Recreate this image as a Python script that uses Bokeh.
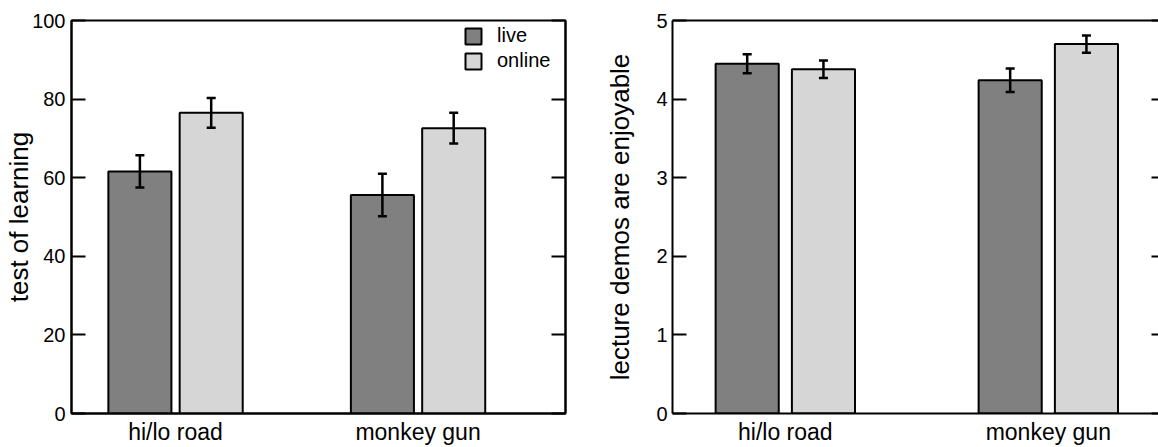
from bokeh.plotting import figure
from bokeh.models import (Range1d, FixedTicker, LinearAxis, Whisker, ColumnDataSource,
                          Legend, LegendItem, TeeHead)
from bokeh.layouts import row
from bokeh.embed import file_html
from bokeh.resources import INLINE

categories = ["hi/lo road", "monkey gun"]
series = ["live", "online"]

learning_live = [61.6, 55.6]
learning_live_err = [4.1, 5.4]
learning_online = [76.5, 72.6]
learning_online_err = [3.8, 3.9]
learning_ticks = [0, 20, 40, 60, 80, 100]

enjoy_live = [4.45, 4.24]
enjoy_live_err = [0.12, 0.15]
enjoy_online = [4.38, 4.70]
enjoy_online_err = [0.11, 0.11]
enjoy_ticks = [0, 1, 2, 3, 4, 5]

FONT = "Liberation Sans"
LIVE_COLOR = "#808080"
ONLINE_COLOR = "#d6d6d6"


def make_panel(live, live_err, online, online_err, ticks, ylabel, ymax,
               width, xend, bar_w, off, mb_left, mb_right, label_standoff,
               tick_standoff, full_outline, right_tick_len, legend=False):
    p = figure(width=width, height=447, x_range=Range1d(0.571, xend),
               y_range=Range1d(0, ymax), output_backend="svg", toolbar_location=None,
               min_border_left=mb_left, min_border_right=mb_right,
               min_border_top=20, min_border_bottom=34)
    p.grid.visible = False
    p.background_fill_color = "white"

    idx = list(range(1, len(categories) + 1))
    xa = p.below[0]
    xa.ticker = FixedTicker(ticks=idx)
    xa.major_label_overrides = {i: c for i, c in zip(idx, categories)}
    xa.major_tick_in = 0
    xa.major_tick_out = 0
    xa.minor_tick_in = 0
    xa.minor_tick_out = 0
    xa.axis_line_width = 2
    xa.axis_line_color = "black"
    xa.major_label_text_font = FONT
    xa.major_label_text_font_size = "23px"
    xa.major_label_text_color = "black"
    xa.major_label_standoff = 5

    ya = p.left[0]
    ya.ticker = FixedTicker(ticks=ticks)
    ya.major_tick_in = 14
    ya.major_tick_out = 0
    ya.minor_tick_in = 0
    ya.minor_tick_out = 0
    ya.major_tick_line_width = 2
    ya.axis_line_width = 2
    ya.axis_line_color = "black"
    ya.major_label_text_font = FONT
    ya.major_label_text_font_size = "20px"
    ya.major_label_text_color = "black"
    ya.major_label_standoff = tick_standoff
    ya.axis_label = ylabel
    ya.axis_label_text_font = FONT
    ya.axis_label_text_font_size = "26px"
    ya.axis_label_text_font_style = "normal"
    ya.axis_label_text_color = "black"
    ya.axis_label_standoff = label_standoff

    if full_outline:
        p.outline_line_color = "black"
        p.outline_line_width = 2
        p.outline_line_alpha = 1
    else:
        p.outline_line_color = None
        top = LinearAxis(ticker=FixedTicker(ticks=[]),
                         major_label_standoff=0, major_tick_in=0, major_tick_out=0,
                         minor_tick_in=0, minor_tick_out=0, axis_line_width=2,
                         axis_line_color="black")
        p.add_layout(top, "above")

    ra = LinearAxis(ticker=FixedTicker(ticks=ticks), major_tick_in=right_tick_len,
                    major_tick_out=0, minor_tick_in=0, minor_tick_out=0,
                    major_tick_line_width=2,
                    major_label_overrides={t: "" for t in ticks},
                    major_label_standoff=0,
                    axis_line_width=2,
                    axis_line_color="black" if full_outline else None)
    p.add_layout(ra, "right")

    renderers = []
    for vals, errs, sign, color in ((live, live_err, -1, LIVE_COLOR),
                                    (online, online_err, 1, ONLINE_COLOR)):
        xs = [i + sign * off for i in idx]
        src = ColumnDataSource(dict(
            x=xs, top=vals,
            lower=[v - e for v, e in zip(vals, errs)],
            upper=[v + e for v, e in zip(vals, errs)]))
        r = p.vbar(x="x", top="top", bottom=0, width=bar_w, source=src,
                   fill_color=color, line_color="black", line_width=2)
        renderers.append(r)
        w = Whisker(base="x", lower="lower", upper="upper", source=src,
                    line_color="black", line_width=2.5, level="annotation",
                    upper_head=TeeHead(size=9, line_width=2.5, line_color="black"),
                    lower_head=TeeHead(size=9, line_width=2.5, line_color="black"))
        p.add_layout(w)

    if legend:
        lg = Legend(items=[LegendItem(label=s, renderers=[r]) for s, r in zip(series, renderers)],
                    location="top_right", glyph_width=20, glyph_height=20,
                    label_text_font=FONT, label_text_font_size="20px",
                    label_text_color="black", label_standoff=14, label_width=64,
                    margin=4, padding=0, spacing=2,
                    background_fill_alpha=0, border_line_alpha=0)
        p.add_layout(lg)
    return p


left = make_panel(learning_live, learning_live_err, learning_online, learning_online_err,
                  learning_ticks, "test of learning", 100,
                  width=580, xend=2.608, bar_w=0.26, off=0.147,
                  mb_left=71, mb_right=15, label_standoff=-5,
                  tick_standoff=6, full_outline=True, right_tick_len=14, legend=True)

right = make_panel(enjoy_live, enjoy_live_err, enjoy_online, enjoy_online_err,
                   enjoy_ticks, "lecture demos are enjoyable", 5,
                   width=578, xend=2.419, bar_w=0.24, off=0.145,
                   mb_left=92, mb_right=0, label_standoff=18,
                   tick_standoff=5, full_outline=False, right_tick_len=7)

layout = row(left, right)
open("out.html", "w").write(file_html(layout, INLINE))
